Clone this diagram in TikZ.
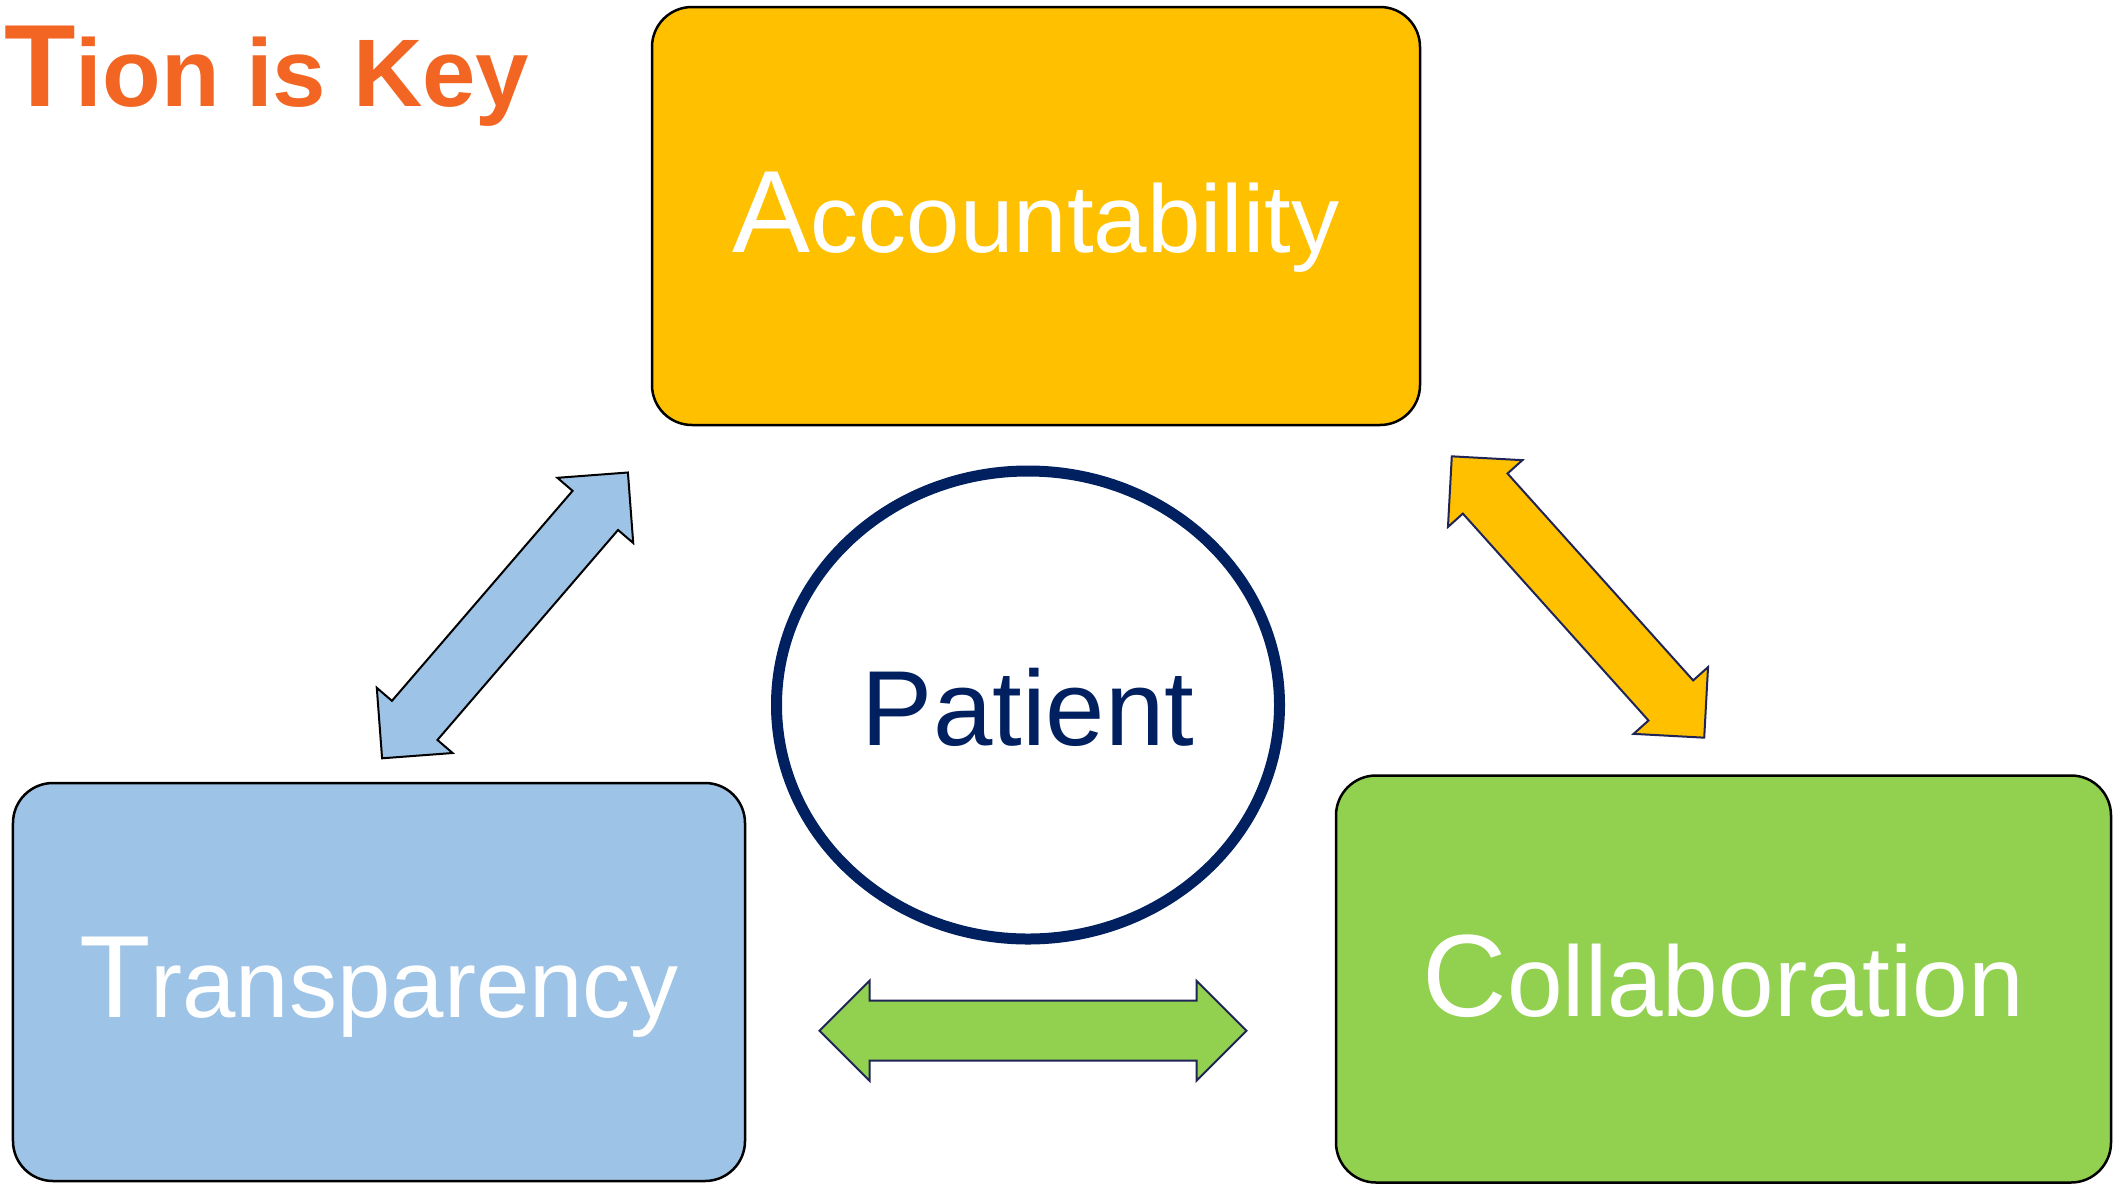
\documentclass[tikz,border=0pt]{standalone}
\usepackage{fontspec}
\setmainfont{Liberation Sans}
\usetikzlibrary{shapes.geometric}

\definecolor{gold}{HTML}{FFC000}
\definecolor{sky}{HTML}{9DC3E6}
\definecolor{leaf}{HTML}{92D050}
\definecolor{navy}{HTML}{002060}
\definecolor{inkblue}{HTML}{1F2456}
\definecolor{titleorange}{HTML}{F26522}

% larger initial letter followed by the regular size
\newcommand\bigfirst[1]{{\fontsize{117bp}{120bp}\selectfont #1}}

\tikzset{
  % flat double-headed block arrow, length #1, centred on the pic origin
  pics/dblarrow/.style={code={
    \pgfmathsetmacro\halflen{#1/2}
    \path[pic actions] (-\halflen,0) -- ++(50,50) -- ++(0,-20) -- (\halflen-50,30)
      -- ++(0,20) -- (\halflen,0) -- ++(-50,-50) -- ++(0,20) -- (-\halflen+50,-30)
      -- ++(0,-20) -- cycle;
  }},
  box/.style={draw=black, line width=2.5bp, rounded corners=40bp, text=white,
    inner sep=0pt, text depth=0pt, font=\fontsize{96bp}{100bp}\selectfont},
  arrowline/.style={line width=2bp, line join=miter},
}

\begin{document}
\begin{tikzpicture}[x=1bp, y=-1bp]
  \useasboundingbox (0,0) rectangle (2121,1185);
  \fill[white] (0,0) rectangle (2121,1185);

  % heading
  \node[anchor=base west, text=titleorange, font=\bfseries, inner sep=0pt] (title) at (4,106)
    {{\fontsize{117bp}{120bp}\selectfont T}{\fontsize{96bp}{100bp}\selectfont ion is Key}};

  % the three values
  \node[box, fill=gold, minimum width=768bp, minimum height=418bp, text height=72bp]
    (acc) at (1036,216) {\bigfirst{A}ccountability};
  \node[box, fill=sky, minimum width=732bp, minimum height=398bp, text height=70bp]
    (tra) at (379,982) {\bigfirst{T}ransparency};
  \node[box, fill=leaf, minimum width=775bp, minimum height=407bp, text height=75bp,
    font=\fontsize{100bp}{104bp}\selectfont]
    (col) at (1723.5,979) {\bigfirst{C}ollaboration};

  % centre
  \node[ellipse, draw=navy, line width=11bp, fill=white, minimum width=503bp,
    minimum height=468bp, text=navy, inner sep=0pt, text height=80bp, text depth=0pt,
    font=\fontsize{106.7bp}{110bp}\selectfont] (pat) at (1028,705) {Patient};

  % block arrows between the values
  \pic[arrowline, fill=sky, draw=black, rotate=49.3] (tra-acc) at (505,615.4) {dblarrow=377};
  \pic[arrowline, fill=gold, draw=inkblue, rotate=-48.1] (acc-col) at (1578,597) {dblarrow=378};
  \pic[arrowline, fill=leaf, draw=inkblue] (tra-col) at (1033,1030.7) {dblarrow=427};
\end{tikzpicture}
\end{document}
